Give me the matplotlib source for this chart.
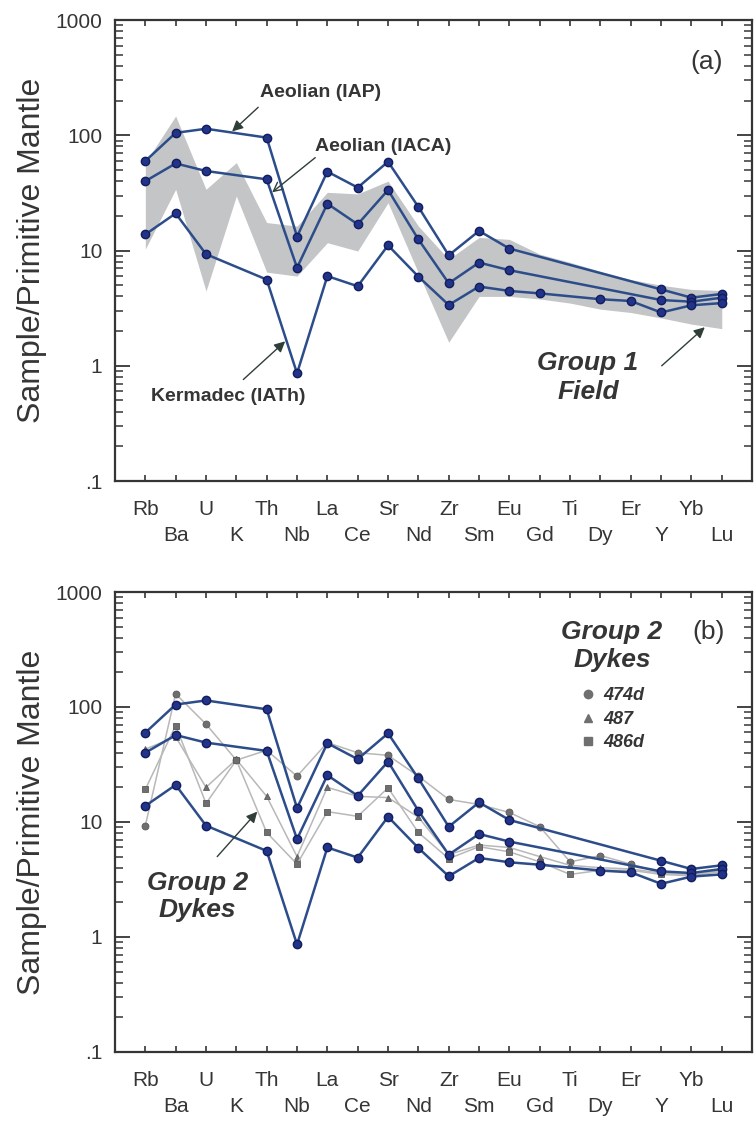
"""Primitive-mantle normalised spider diagrams for the Group 1 / Group 2 suites.

Panel (a): Aeolian and Kermadec arc reference patterns over the Group 1 field.
Panel (b): the same reference patterns with the Group 2 dyke samples.
"""
import matplotlib
matplotlib.use("Agg")
import matplotlib.pyplot as plt
from matplotlib.lines import Line2D
from matplotlib.ticker import LogLocator, NullFormatter

nan = float("nan")

elements = ["Rb", "Ba", "U", "K", "Th", "Nb", "La", "Ce", "Sr", "Nd",
            "Zr", "Sm", "Eu", "Gd", "Ti", "Dy", "Er", "Y", "Yb", "Lu"]

# reference arc patterns (NaN = not analysed)
aeolian_iap = [59.8, 105, 114, nan, 95.5, 13.2, 48.4, 35.2, 59, 23.9,
               9.1, 14.8, 10.4, nan, nan, nan, nan, 4.6, 3.9, 4.2]
aeolian_iaca = [40, 57, 49, nan, 41.5, 7.1, 25.5, 16.9, 33.5, 12.5,
                5.2, 7.86, 6.75, nan, nan, nan, nan, 3.72, 3.6, 3.9]
kermadec_iath = [13.8, 21, 9.3, nan, 5.6, 0.86, 6.0, 4.9, 11.1, 5.94,
                 3.37, 4.87, 4.46, 4.25, nan, 3.78, 3.65, 2.9, 3.35, 3.5]

# Group 1 field envelope
group1_upper = [58, 147, 34, 58, 17.5, 16.3, 32, 31, 40, 16.3,
                8.4, 13, 12.5, 9.3, 7.9, 6.6, 5.6, 5.0, 4.6, 4.5]
group1_lower = [10.3, 34, 4.45, 29.7, 6.5, 6.0, 11.7, 9.9, 26, 6.4,
                1.6, 4.0, 4.0, 3.8, 3.5, 3.1, 2.9, 2.6, 2.3, 2.1]

# Group 2 dykes
dyke_474d = [9.3, 130, 71, 34.5, 42, 25, 49, 40, 38, 25,
             15.7, 14.2, 12.1, 9.1, 4.5, 5.1, 4.3, 3.6, 3.5, 3.8]
dyke_487 = [43, 55, 20, 35, 16.7, 5.0, 20, 16.7, 16.3, 11,
            5.2, 6.3, 6.0, 5.0, 4.2, 4.0, 3.9, 3.6, 3.5, 3.8]
dyke_486d = [19.2, 69, 14.5, 34.5, 8.1, 4.3, 12.3, 11.2, 19.8, 8.1,
             4.8, 6.1, 5.5, 4.5, 3.5, 3.8, 3.8, 3.5, 3.4, 3.7]

dyke_names = ["474d", "487", "486d"]
dyke_markers = ["o", "^", "s"]

INK = "#353535"
LINE_BLUE = "#2c4d8a"
MARKER_BLUE = "#22338a"
EDGE_BLUE = "#131d5c"
FIELD_GREY = "#c3c5c7"
DYKE_LINE = "#b8b8b8"
DYKE_MARK = "#6f6f6f"

plt.rcParams["font.family"] = ["Liberation Sans", "DejaVu Sans"]
plt.rcParams["text.color"] = INK


def present(values):
    xs = [i for i, v in enumerate(values) if v == v]
    return xs, [values[i] for i in xs]


def style_axes(ax):
    ax.set_yscale("log")
    ax.set_ylim(0.1, 1000)
    ax.set_xlim(-1, len(elements))
    ax.set_yticks([0.1, 1, 10, 100, 1000], labels=[".1", "1", "10", "100", "1000"])
    ax.yaxis.set_minor_locator(LogLocator(base=10, subs=range(2, 10)))
    ax.yaxis.set_minor_formatter(NullFormatter())
    ax.set_xticks(range(0, len(elements), 2), labels=elements[0::2])
    ax.set_xticks(range(1, len(elements), 2), labels=elements[1::2], minor=True)
    ax.tick_params(axis="y", which="major", direction="in", length=11, width=1.3,
                   left=True, right=True, labelsize=15, pad=9, colors=INK)
    ax.tick_params(axis="y", which="minor", direction="in", length=6, width=1.1,
                   left=True, right=True, colors=INK)
    ax.tick_params(axis="x", which="both", direction="in", length=4, width=1.2,
                   top=True, bottom=True, labelsize=15, colors=INK)
    ax.tick_params(axis="x", which="major", pad=13.5)
    ax.tick_params(axis="x", which="minor", pad=32.5)
    for spine in ax.spines.values():
        spine.set_linewidth(1.6)
        spine.set_color(INK)
    ax.set_ylabel("Sample/Primitive Mantle", fontsize=23, labelpad=6, color=INK)


def plot_reference(ax):
    for series in (aeolian_iap, aeolian_iaca, kermadec_iath):
        xs, ys = present(series)
        ax.plot(xs, ys, color=LINE_BLUE, lw=1.8, marker="o", ms=6,
                mfc=MARKER_BLUE, mec=EDGE_BLUE, mew=1.0, zorder=4)


def arrow(ax, head, tail, filled=True):
    ax.annotate("", xy=head, xytext=tail,
                arrowprops=dict(arrowstyle="-|>" if filled else "->",
                                color="#2f3f38", lw=1.0,
                                mutation_scale=16, shrinkA=0, shrinkB=0),
                zorder=5)


fig = plt.figure(figsize=(7.54, 11.21), dpi=100)
ax_a = fig.add_axes([0.1525, 0.5709, 0.845, 0.4112])
ax_b = fig.add_axes([0.1525, 0.0616, 0.845, 0.4103])

# (a) reference patterns over the Group 1 field
x_all = range(len(elements))
ax_a.fill_between(x_all, group1_lower, group1_upper, color=FIELD_GREY, lw=0, zorder=1)
plot_reference(ax_a)
style_axes(ax_a)

ax_a.text(5.76, 236, "Aeolian (IAP)", fontsize=14, fontweight="bold", ha="center", va="center")
arrow(ax_a, (2.86, 108), (3.72, 175))
ax_a.text(7.84, 80, "Aeolian (IACA)", fontsize=14, fontweight="bold", ha="center", va="center")
arrow(ax_a, (4.18, 32), (5.6, 64), filled=False)
ax_a.text(2.73, 0.54, "Kermadec (IATh)", fontsize=14, fontweight="bold", ha="center", va="center")
arrow(ax_a, (4.61, 1.63), (3.23, 0.76))
ax_a.text(14.59, 0.79, "Group 1\nField", fontsize=19, fontweight="bold", fontstyle="italic",
          ha="center", va="center", linespacing=1.3)
arrow(ax_a, (18.44, 2.16), (17.02, 1.0))
ax_a.text(0.928, 0.909, "(a)", transform=ax_a.transAxes, fontsize=19,
          ha="center", va="center")

# (b) reference patterns with the Group 2 dykes
for values, marker in zip((dyke_474d, dyke_487, dyke_486d), dyke_markers):
    ax_b.plot(x_all, values, color=DYKE_LINE, lw=1.1, marker=marker, ms=5,
              mfc=DYKE_MARK, mec="#5a5a5a", mew=0.6, zorder=2)
plot_reference(ax_b)
style_axes(ax_b)

ax_b.text(1.71, 2.25, "Group 2\nDykes", fontsize=19, fontweight="bold", fontstyle="italic",
          ha="center", va="center", linespacing=1.2)
arrow(ax_b, (3.69, 12.3), (2.37, 5.0))
ax_b.text(0.931, 0.913, "(b)", transform=ax_b.transAxes, fontsize=19,
          ha="center", va="center")
ax_b.text(0.780, 0.882, "Group 2\nDykes", transform=ax_b.transAxes, fontsize=19,
          fontweight="bold", fontstyle="italic", ha="center", va="center", linespacing=1.2)

handles = [Line2D([], [], ls="none", marker=m, ms=6, mfc=DYKE_MARK, mec=DYKE_MARK)
           for m in dyke_markers]
legend = ax_b.legend(handles, dyke_names, loc="upper left", bbox_to_anchor=(0.714, 0.812),
                     frameon=False, borderpad=0, handlelength=1.0, handletextpad=0.35,
                     labelspacing=0.36, prop={"weight": "bold", "style": "italic", "size": 13})
for text in legend.get_texts():
    text.set_color(INK)

fig.savefig("out.png", dpi=100)
